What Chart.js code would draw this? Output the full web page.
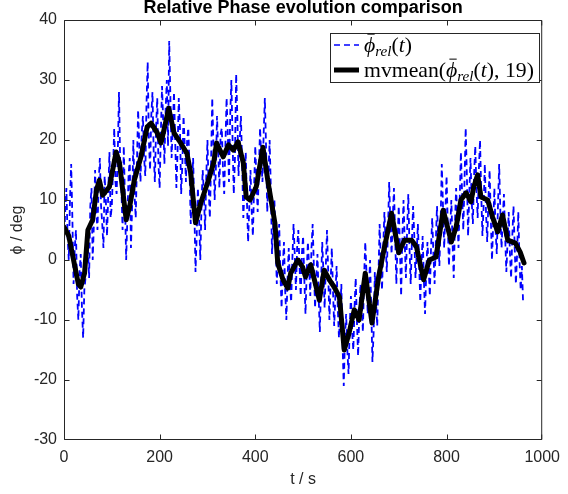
<!DOCTYPE html>
<html>
<head>
<meta charset="utf-8">
<script src="https://cdn.jsdelivr.net/npm/chart.js@4/dist/chart.umd.min.js"></script>
<style>
    html, body { margin: 0; padding: 0; background: #fff; }
</style>
</head>
<body>
<canvas id="phaseChart" width="568" height="494"></canvas>
<script>
// raw relative phase, one sample every 2.5 s starting at t = 0
const rawStep = 2.5;
const rawPhase = [
    3, 8, 12, 4, 0, 10, 16, 7, -4, 2, 5, -6, -10, -2, 1, -8, -13, -5, -3, 4,
    2, -3, 9, 12, 0, 6, 15, 8, 5, 13, 17, 9, 6, 2, 14, 10, 4, 11, 18, 7,
    9, 15, 22, 13, 11, 18, 28, 16, 12, 5, 19, 10, 0, 7, 14, 17, 2, 9, 20, 11,
    7, 16, 25, 19, 13, 21, 24, 17, 14, 26, 33, 20, 15, 24, 28, 18, 13, 22, 27, 16,
    12, 21, 29, 23, 16, 25, 30, 19, 36.5, 27, 17, 22, 28, 20, 12, 18, 27, 22, 11, 16,
    24, 19, 13, 20, 22, 15, 6, 12, 17, 9, -2, 4, 12, 7, 0, 9, 15, 11, 5, 14,
    20, 12, 7, 16, 27, 19, 10, 15, 24, 18, 12, 21, 22, 15, 11, 19, 27, 21, 13, 24,
    30, 20, 11, 17, 31, 24, 14, 20, 24, 16, 7, 12, 18, 10, 3, 9, 15, 8, 4, 12,
    19, 13, 8, 15, 22, 17, 13, 21, 27, 19, 8, 14, 20, 12, 1, 6, 10, 3, -4, 2,
    6, -2, -8, -1, 3, -5, -10, -3, 2, -4, -7, 0, 6, 1, -5, 2, 5, -1, -6, 1,
    4, -3, -9, -2, 3, -1, -6, 2, 6, -1, -8, -3, 1, -6, -12, -4, 3, -2, -8, -1,
    5, -2, -10, -4, 2, -5, -11, -6, -1, -8, -13, -9, -4, -14, -21, -13, -9, -15, -19, -11,
    -6, -12, -15, -8, -3, -10, -16, -9, -4, -7, -12, -3, 3, -2, -9, -5, 0, -8, -17, -12,
    -2, -7, -11, -3, 6, 0, -5, 2, 8, 3, -2, 5, 13, 6, 1, 7, 12, 4, -4, 3,
    9, 2, -6, 4, 10, 3, -3, 5, 11, 2, -4, 3, 9, 4, -3, 1, 6, 0, -7, -1,
    4, -3, -9, -2, 3, -1, -6, 2, 7, 1, -4, 3, 9, 4, -1, 6, 16, 9, 2, 8,
    14, 6, -1, 5, 10, 3, -3, 6, 12, 7, 2, 10, 18, 11, 5, 13, 22, 14, 4, 11,
    17, 10, 6, 14, 19, 12, 7, 15, 20, 11, 4, 9, 16, 8, 3, 10, 15, 7, 0, 6,
    12, 5, 1, 9, 16, 8, 2, 7, 11, 4, -2, 3, 8, 1, -3, 4, 9, 2, -4, 1,
    8, 0, -5, -1, -7
];

// moving mean (window 19)
const meanTime = [
    0, 10, 20, 30, 35, 43, 50, 60, 68, 74,
    81, 95, 109, 116, 130, 137, 147, 161, 174, 182,
    195, 203, 219, 230, 244, 257, 265, 275, 286, 302,
    313, 319, 333, 344, 354, 364, 375, 381, 389, 402,
    416, 426, 441, 447, 458, 468, 474, 489, 499, 505,
    516, 534, 544, 555, 565, 576, 586, 596, 607, 617,
    630, 644, 658, 669, 679, 685, 700, 712, 727, 737,
    752, 764, 778, 793, 810, 820, 830, 841, 851, 857,
    865, 872, 886, 896, 907, 917, 928, 944, 954, 962
];
const meanPhase = [
    5.5, 4, 0, -4, -4.5, -2.2, 5, 6.7, 11.7, 13.3,
    10.8, 12.2, 18, 16.2, 6.7, 8.8, 13.3, 17.2, 22.2, 22.8,
    21.2, 19.5, 25.3, 21.2, 19.5, 17.8, 14.5, 6.2, 9.5, 13.3,
    16.2, 19.5, 17.2, 19.2, 18.3, 19.7, 16.2, 10.5, 10, 12.2,
    18.8, 13.3, 6.2, -0.5, -3.3, -4.7, -2.2, 0, -1.2, -2.8,
    -0.8, -6.7, -1.7, -3.3, -4.5, -6.2, -15, -12.2, -8.3, -10,
    -2.2, -10.5, -2.8, 1.7, 5.5, 7.8, 1.2, 3.3, 3.3, 2.2,
    -3.3, 0, 0.5, 8.3, 3, 5.5, 10, 11.2, 9.7, 12.2,
    14.2, 10.5, 10, 7.2, 4.7, 7.5, 3.3, 2.8, 1.3, -0.5
];

const xTicks = [0, 200, 400, 600, 800, 1000];
const yTicks = [-30, -20, -10, 0, 10, 20, 30, 40];

const chartTitle = 'Relative Phase evolution comparison';
const xLabel = 't / s';
const yLabel = 'ϕ / deg';

const axisColor = '#262626';
const sansFont = "'Liberation Sans', Arial, sans-serif";
const serifFont = "'Liberation Serif', 'Times New Roman', serif";

const rawPoints = rawPhase.map((v, i) => ({ x: i * rawStep, y: v }));
const meanPoints = meanTime.map((t, i) => ({ x: t, y: meanPhase[i] }));

// draws a run of text pieces, returns the width
const drawPieces = (ctx, pieces, x, y, size, measureOnly) => {
    let cx = x;
    pieces.forEach(p => {
        const fs = p.sub ? size * 0.7 : size;
        ctx.font = `${p.italic ? 'italic ' : ''}${fs}px ${serifFont}`;
        const w = ctx.measureText(p.text).width;
        if (!measureOnly) {
            const dy = p.sub ? size * 0.22 : 0;
            ctx.fillText(p.text, cx, y + dy);
            if (p.bar) {
                ctx.save();
                ctx.lineWidth = 1;
                ctx.strokeStyle = '#000';
                ctx.beginPath();
                ctx.moveTo(cx + w * 0.3, y - size * 0.8);
                ctx.lineTo(cx + w * 0.95, y - size * 0.8);
                ctx.stroke();
                ctx.restore();
            }
        }
        cx += w;
    });
    return cx - x;
};

const phiRel = [
    { text: 'ϕ', italic: true, bar: true },
    { text: 'rel', italic: true, sub: true },
    { text: '(' },
    { text: 't', italic: true },
    { text: ')' }
];
const legendItems = [
    { pieces: phiRel, color: '#0000ff', width: 1.5, dash: [6, 4], y: 45 },
    { pieces: [{ text: 'mvmean(' }].concat(phiRel, [{ text: ', 19)' }]), color: '#000', width: 5, dash: [], y: 70 }
];

const decorPlugin = {
    id: 'decor',
    afterDatasetsDraw(chart) {
        const { ctx, chartArea: a, scales } = chart;
        const L = a.left + 0.5, R = a.right - 0.5, T = a.top + 0.5, B = a.bottom - 0.5;
        ctx.save();
        ctx.strokeStyle = axisColor;
        ctx.lineWidth = 1;
        ctx.beginPath();
        ctx.rect(L, T, R - L, B - T);
        xTicks.forEach(t => {
            const px = Math.min(R, Math.max(L, Math.round(scales.x.getPixelForValue(t)) + 0.5));
            ctx.moveTo(px, B); ctx.lineTo(px, B - 5);
            ctx.moveTo(px, T); ctx.lineTo(px, T + 5);
        });
        yTicks.forEach(t => {
            const py = Math.min(B, Math.max(T, Math.round(scales.y.getPixelForValue(t)) + 0.5));
            ctx.moveTo(L, py); ctx.lineTo(L + 5, py);
            ctx.moveTo(R, py); ctx.lineTo(R - 5, py);
        });
        ctx.stroke();

        // legend
        const lx = 330, ly = 33, lw = 209, lh = 49;
        ctx.fillStyle = '#fff';
        ctx.fillRect(lx, ly, lw, lh);
        ctx.strokeRect(lx + 0.5, ly + 0.5, lw, lh);
        const base = drawPieces(ctx, legendItems[1].pieces, 0, 0, 20, true);
        const size = 20 * 170 / base;
        legendItems.forEach(item => {
            ctx.save();
            ctx.strokeStyle = item.color;
            ctx.lineWidth = item.width;
            ctx.setLineDash(item.dash);
            ctx.beginPath();
            ctx.moveTo(334, item.y);
            ctx.lineTo(359, item.y);
            ctx.stroke();
            ctx.restore();
            ctx.fillStyle = '#000';
            ctx.textBaseline = 'alphabetic';
            drawPieces(ctx, item.pieces, 364, item.y + size * 0.3, size, false);
        });
        ctx.restore();
    },
    afterDraw(chart) {
        const { ctx, chartArea: a } = chart;
        const cx = (a.left + a.right) / 2;
        ctx.save();
        ctx.fillStyle = '#000';
        ctx.textAlign = 'center';
        ctx.textBaseline = 'alphabetic';
        ctx.font = `bold 18px ${sansFont}`;
        ctx.fillText(chartTitle, cx, 13);
        ctx.fillStyle = axisColor;
        ctx.font = `16px ${sansFont}`;
        ctx.textBaseline = 'middle';
        ctx.fillText(xLabel, cx, 480);
        ctx.translate(18, (a.top + a.bottom) / 2);
        ctx.rotate(-Math.PI / 2);
        ctx.fillText(yLabel, 0, 0);
        ctx.restore();
    }
};

const ctx = document.getElementById('phaseChart').getContext('2d');
new Chart(ctx, {
    type: 'line',
    data: {
        datasets: [
            {
                label: 'raw',
                data: rawPoints,
                borderColor: '#0000ff',
                borderWidth: 1.8,
                borderDash: [6, 4],
                pointRadius: 0,
                tension: 0,
                order: 2
            },
            {
                label: 'mvmean',
                data: meanPoints,
                borderColor: '#000000',
                borderWidth: 5,
                borderJoinStyle: 'round',
                borderCapStyle: 'round',
                pointRadius: 0,
                tension: 0,
                order: 1
            }
        ]
    },
    options: {
        responsive: false,
        animation: false,
        devicePixelRatio: 1,
        layout: { padding: { left: 0, right: 21, top: 20, bottom: 0 } },
        plugins: {
            legend: { display: false },
            title: { display: false },
            tooltip: { enabled: false }
        },
        scales: {
            x: {
                type: 'linear',
                min: 0,
                max: 1000,
                grid: { display: false, drawTicks: false },
                border: { display: false },
                ticks: {
                    stepSize: 200,
                    padding: 8,
                    color: axisColor,
                    font: { family: sansFont, size: 16 },
                    maxRotation: 0,
                    callback: v => String(v)
                },
                afterFit(scale) { scale.height = 54; }
            },
            y: {
                min: -30,
                max: 40,
                grid: { display: false, drawTicks: false },
                border: { display: false },
                ticks: {
                    stepSize: 10,
                    padding: 7,
                    color: axisColor,
                    font: { family: sansFont, size: 16 },
                    callback: v => String(v)
                },
                afterFit(scale) { scale.width = 64; }
            }
        }
    },
    plugins: [decorPlugin]
});
</script>
</body>
</html>
